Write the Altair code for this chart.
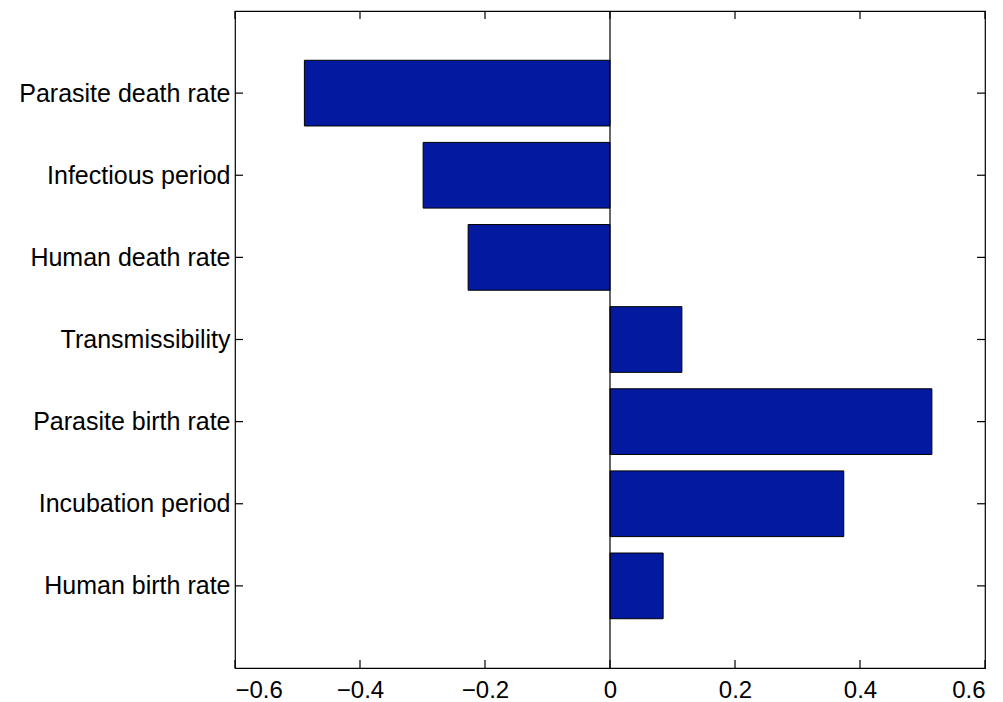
import altair as alt
import pandas as pd

categories = ["Human birth rate", "Incubation period", "Parasite birth rate",
              "Transmissibility", "Human death rate", "Infectious period",
              "Parasite death rate"]
positions = [1, 2, 3, 4, 5, 6, 7]
values = [0.085, 0.374, 0.515, 0.115, -0.227, -0.299, -0.489]
x_ticks = [-0.6, -0.4, -0.2, 0.0, 0.2, 0.4, 0.6]
y_ticks = [1, 2, 3, 4, 5, 6, 7]

W, H = 750, 657
TL = 8

bars_df = pd.DataFrame({"cat": categories, "pos": positions, "val": values})
xt_df = pd.DataFrame({"t": x_ticks})
yt_df = pd.DataFrame({"t": y_ticks})

xscale = alt.Scale(domain=[-0.6, 0.6], nice=False, zero=False)
yscale = alt.Scale(domain=[0, 8], nice=False, zero=False)

label_expr = "[''," + ",".join("'" + c + "'" for c in categories) + "][datum.value]"

font = "Liberation Sans"

xaxis = alt.Axis(values=x_ticks, grid=False, domain=False, ticks=False,
                 tickSize=0, labelPadding=10, labelFontSize=24, labelFont=font,
                 labelColor="black", title=None,
                 labelExpr="datum.value < 0 ? '\u2212' + format(-datum.value, '~g') : format(datum.value, '~g')")
yaxis = alt.Axis(values=y_ticks, grid=False, domain=False, ticks=False, tickSize=0,
                 labelPadding=5, labelFontSize=25, labelFont=font, labelColor="black",
                 labelLimit=400, labelExpr=label_expr, title=None)

bars = alt.Chart(bars_df).mark_bar(color="#0319a0", stroke="black", strokeWidth=1).transform_calculate(
    lo="datum.pos - 0.4", hi="datum.pos + 0.4", zero="0"
).encode(
    x=alt.X("val:Q", scale=xscale, axis=xaxis),
    x2="zero:Q",
    y=alt.Y("lo:Q", scale=yscale, axis=yaxis),
    y2="hi:Q",
)

zero_line = alt.Chart(pd.DataFrame({"z": [0.0]})).mark_rule(color="black", strokeWidth=1.2).encode(
    x=alt.X("z:Q", scale=xscale, axis=xaxis),
    y=alt.value(0), y2=alt.value(H),
)

top_ticks = alt.Chart(xt_df).mark_rule(color="black", strokeWidth=1.2).encode(
    x=alt.X("t:Q", scale=xscale, axis=xaxis), y=alt.value(0), y2=alt.value(TL))
bot_ticks = alt.Chart(xt_df).mark_rule(color="black", strokeWidth=1.2).encode(
    x=alt.X("t:Q", scale=xscale, axis=xaxis), y=alt.value(H - TL), y2=alt.value(H))
left_ticks = alt.Chart(yt_df).mark_rule(color="black", strokeWidth=1.2).encode(
    y=alt.Y("t:Q", scale=yscale, axis=yaxis), x=alt.value(0), x2=alt.value(TL))
right_ticks = alt.Chart(yt_df).mark_rule(color="black", strokeWidth=1.2).encode(
    y=alt.Y("t:Q", scale=yscale, axis=yaxis), x=alt.value(W - TL), x2=alt.value(W))

chart = alt.layer(bars, zero_line, top_ticks, bot_ticks, left_ticks, right_ticks).properties(
    width=W, height=H, background="white",
    padding={"left": 10, "top": 2, "right": 0, "bottom": 0},
).configure_view(stroke="black", strokeWidth=1.2)

chart.save("out.html", embed_options={"renderer": "svg", "actions": False})
